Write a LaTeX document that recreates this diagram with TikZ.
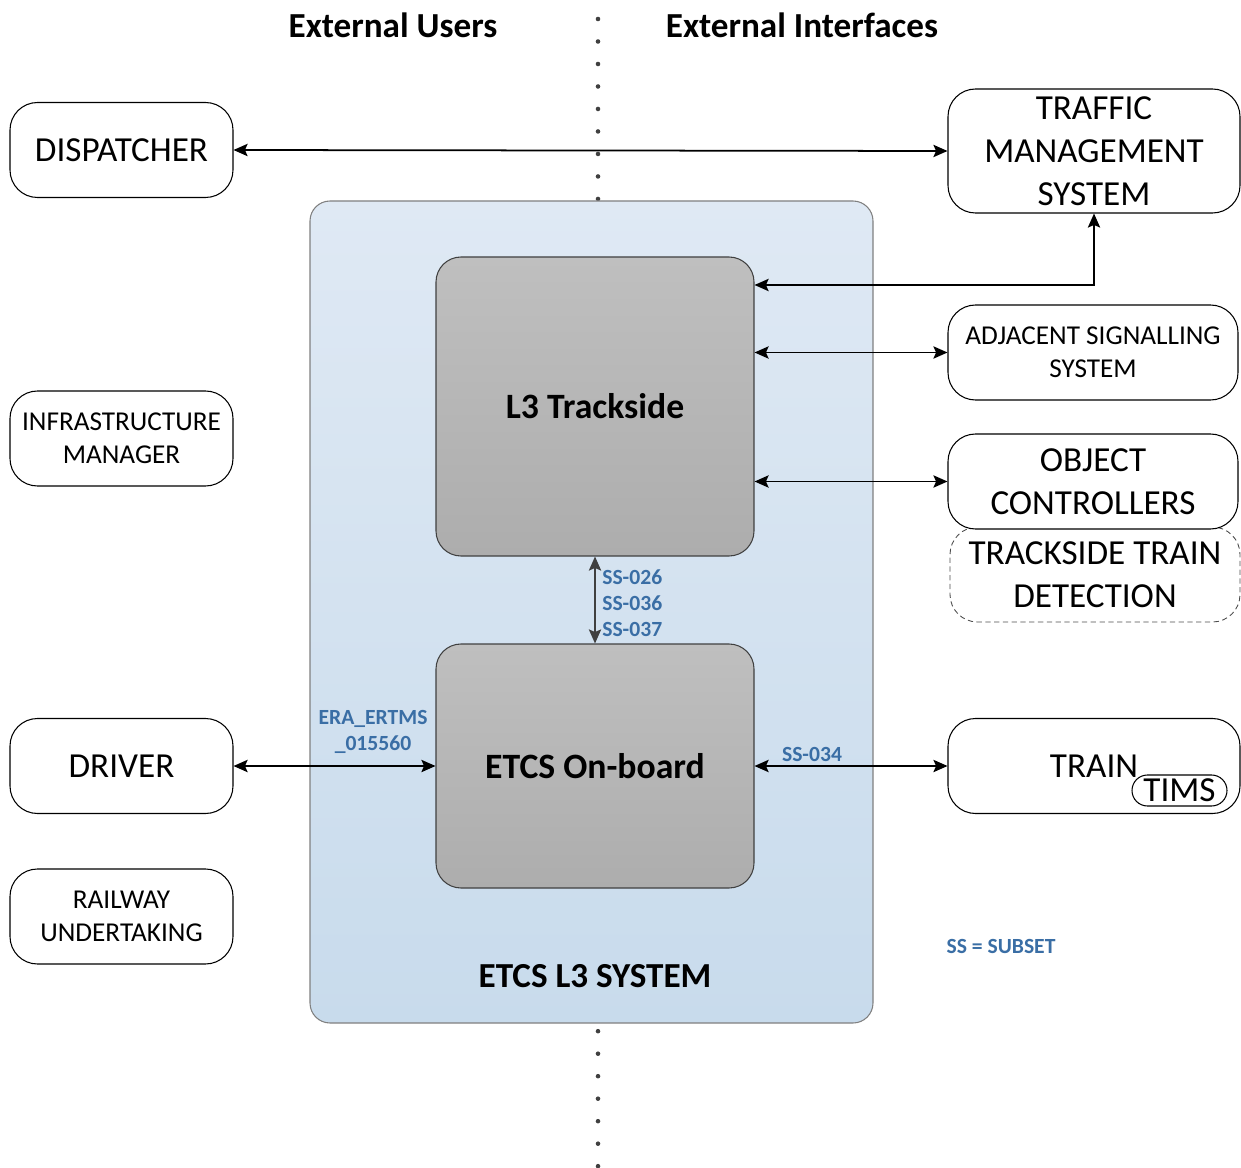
\documentclass[tikz,border=0pt]{standalone}
\usepackage{fontspec}
\setmainfont{Carlito}
\usetikzlibrary{arrows.meta}

\definecolor{systop}{HTML}{DFE9F4}
\definecolor{sysbot}{HTML}{C8DBEC}
\definecolor{blockgray}{HTML}{BFBFBF}
\definecolor{blockdark}{HTML}{ADADAD}
\definecolor{sslabel}{HTML}{3A6EA5}

\begin{document}
\begin{tikzpicture}[
    actor/.style={draw, line width=0.6pt, rounded corners=0.55cm, align=center,
        minimum width=4.46cm, minimum height=1.9cm, inner sep=2pt,
        font=\fontsize{20}{24.4}\selectfont},
    actorsmall/.style={actor, font=\fontsize{15.5}{19}\selectfont},
    iface/.style={actor, minimum width=5.84cm},
    block/.style={draw=black!75, line width=0.6pt, rounded corners=0.5cm,
        top color=blockgray, bottom color=blockdark, minimum width=6.36cm,
        font=\bfseries\fontsize{20.3}{24}\selectfont},
    link/.style={line width=1pt, {Stealth[length=8pt,width=7pt,inset=1.5pt]}-{Stealth[length=8pt,width=7pt,inset=1.5pt]}},
    sstext/.style={text=sslabel, font=\bfseries\fontsize{12.3}{14.7}\selectfont, inner sep=0pt},
    title/.style={font=\bfseries\fontsize{20}{24}\selectfont}
]
    \useasboundingbox (0,0) rectangle (24.82,-23.36);

    % dotted border between users and interfaces
    \coordinate (divtop) at (11.96,-0.38);
    \coordinate (divbot) at (11.96,-23.36);
    \draw[black!75, line width=2.6pt, line cap=round, dash pattern=on 0pt off 12.8pt] (divtop) -- (divbot);

    \node[title] (users) at (7.86,-0.5) {External Users};
    \node[title] (interfaces) at (16.04,-0.5) {External Interfaces};

    % the system with its two blocks
    \node[draw=black!50, line width=0.6pt, rounded corners=0.4cm, top color=systop, bottom color=sysbot,
        minimum width=11.26cm, minimum height=16.44cm] (system) at (11.83,-12.24) {};
    \node[block, minimum height=5.98cm] (trackside) at (11.9,-8.13) {L3 Trackside};
    \node[block, minimum height=4.88cm] (onboard) at (11.9,-15.32) {ETCS On-board};
    \node[title] (systitle) at (11.9,-19.52) {ETCS L3 SYSTEM};

    % external users
    \node[actor] (dispatcher) at (2.43,-3.0) {DISPATCHER};
    \node[actorsmall] (infra) at (2.43,-8.77) {INFRASTRUCTURE\\MANAGER};
    \node[actor] (driver) at (2.43,-15.32) {DRIVER};
    \node[actorsmall] (railway) at (2.43,-18.33) {RAILWAY\\UNDERTAKING};

    % external interfaces
    \node[iface, minimum height=2.48cm] (tms) at (21.88,-3.02) {TRAFFIC\\MANAGEMENT\\SYSTEM};
    \node[actorsmall, minimum width=5.8cm] (adjacent) at (21.86,-7.05) {ADJACENT SIGNALLING\\SYSTEM};
    \node[draw, densely dashed, black!70, text=black, line width=0.5pt, rounded corners=0.55cm, align=center,
        minimum width=5.8cm, minimum height=1.9cm, font=\fontsize{20}{24.4}\selectfont] (detection) at (21.9,-11.49) {TRACKSIDE TRAIN\\DETECTION};
    \node[actor, minimum width=5.8cm, fill=white] (objctrl) at (21.86,-9.63) {OBJECT\\CONTROLLERS};
    \node[iface] (train) at (21.88,-15.32) {TRAIN};
    \node[draw, line width=0.6pt, rounded corners=0.31cm, minimum width=1.9cm, minimum height=0.62cm,
        inner sep=0pt, font=\fontsize{20}{24}\selectfont] (tims) at (23.59,-15.81) {TIMS};

    % connections
    \draw[link] (dispatcher.east) -- (tms.west);
    \draw[link] (tms.south) |- ([yshift=2.43cm]trackside.east);
    \draw[link] (trackside.east |- adjacent.west) -- (adjacent.west);
    \draw[link] (trackside.east |- objctrl.west) -- (objctrl.west);
    \draw[link, black!75] (trackside.south) -- (onboard.north);
    \draw[link] (driver.east) -- (onboard.west);
    \draw[link] (onboard.east) -- (train.west);

    % subset labels
    \node[sstext, anchor=west, align=left] (ssvert) at (12.04,-12.06) {SS-026\\SS-036\\SS-037};
    \node[sstext, align=center] (ssdmi) at (7.46,-14.64) {ERA\_ERTMS\\\_015560};
    \node[sstext] (sstrain) at (16.24,-15.08) {SS-034};
    \node[sstext] (sslegend) at (20.02,-18.92) {SS = SUBSET};
\end{tikzpicture}
\end{document}
